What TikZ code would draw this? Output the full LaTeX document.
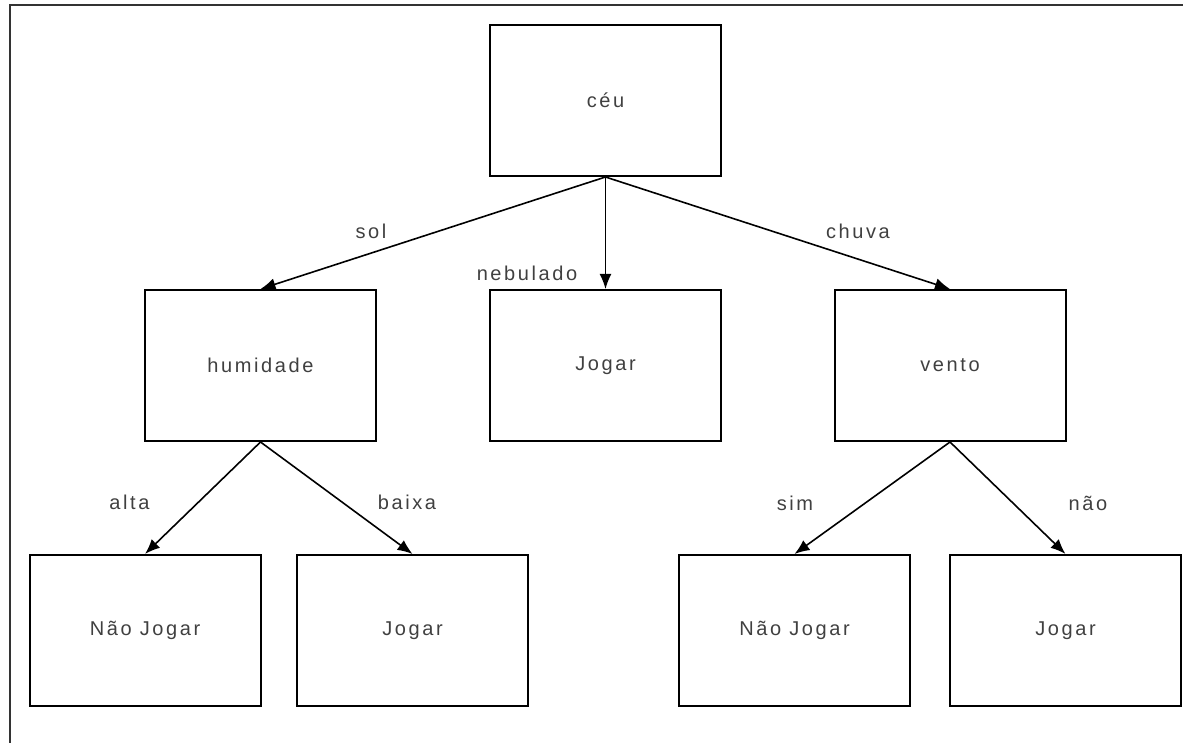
\documentclass[tikz,border=0pt]{standalone}
\usepackage{fontspec}
\setmainfont{Liberation Sans}[LetterSpace=13]
\usepackage{tikz}
\usetikzlibrary{arrows.meta}

\begin{document}
\begin{tikzpicture}[x=0.5pt, y=-0.5pt,
    box/.style={draw, line width=1pt, minimum width=115.5pt, minimum height=75.5pt, inner sep=0pt, text=black!75, font=\fontsize{10}{12}\selectfont},
    lbl/.style={inner sep=0pt, text=black!75, font=\fontsize{10}{12}\selectfont},
    every path/.style={line width=0.8pt},
    arr/.style={-{Latex[length=7.5pt, width=6pt]}}]

    \useasboundingbox (0,0) rectangle (1183,743);
    \draw[line width=1pt, black!80] (10,743) -- (10,5) -- (1183,5);

    \node[box] (ceu) at (605.5,100.5) {céu};

    \node[box] (humidade) at (260.5,365.5) {humidade};
    \node[box] (jogar1) at (605.5,365.5) {Jogar};
    \node[box] (vento) at (950,365.5) {vento};

    \node[box] (naojogar1) at (145,630.5) {Não Jogar};
    \node[box] (jogar2) at (412.5,630.5) {Jogar};
    \node[box] (naojogar2) at (794.5,630.5) {Não Jogar};
    \node[box] (jogar3) at (1065.5,630.5) {Jogar};

    % labels of the branches
    \node[lbl] (sol) at (371,231) {sol};
    \node[lbl] (nebulado) at (527,273) {nebulado};
    \node[lbl] (chuva) at (858,231) {chuva};
    \node[lbl] (alta) at (129.5,502) {alta};
    \node[lbl] (baixa) at (407,502) {baixa};
    \node[lbl] (sim) at (795,503) {sim};
    \node[lbl] (nao) at (1088,503) {não};

    \draw[arr] (ceu.south) to (humidade.north);
    \draw[arr] (ceu.south) to (jogar1.north);
    \draw[arr] (ceu.south) to (vento.north);
    \draw[arr] (humidade.south) to (naojogar1.north);
    \draw[arr] (humidade.south) to (jogar2.north);
    \draw[arr] (vento.south) to (naojogar2.north);
    \draw[arr] (vento.south) to (jogar3.north);
\end{tikzpicture}
\end{document}
